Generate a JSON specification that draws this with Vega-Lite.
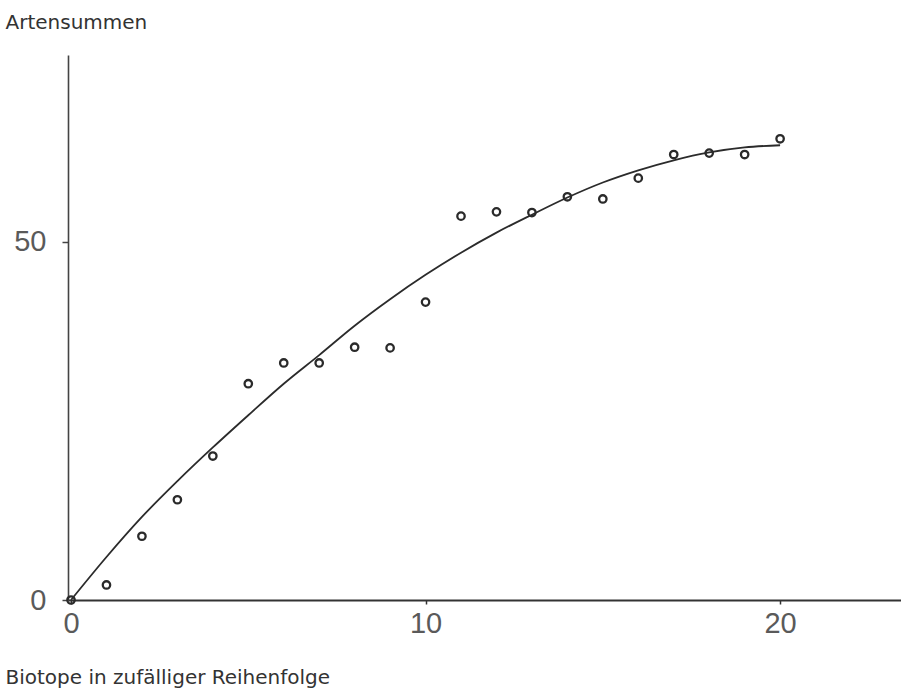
{
  "$schema": "https://vega.github.io/schema/vega-lite/v6.json",
  "width": 833,
  "height": 545,
  "autosize": "none",
  "padding": {"left": 68, "top": 55, "right": 0, "bottom": 88},
  "background": "white",
  "config": {"view": {"stroke": null}},
  "datasets": {
    "punkte": [
      {"biotop": 0, "arten": 0},
      {"biotop": 1, "arten": 2.1},
      {"biotop": 2, "arten": 8.9},
      {"biotop": 3, "arten": 14.0},
      {"biotop": 4, "arten": 20.1},
      {"biotop": 5, "arten": 30.2},
      {"biotop": 6, "arten": 33.1},
      {"biotop": 7, "arten": 33.1},
      {"biotop": 8, "arten": 35.3},
      {"biotop": 9, "arten": 35.2},
      {"biotop": 10, "arten": 41.6},
      {"biotop": 11, "arten": 53.6},
      {"biotop": 12, "arten": 54.2},
      {"biotop": 13, "arten": 54.1},
      {"biotop": 14, "arten": 56.3},
      {"biotop": 15, "arten": 56.0},
      {"biotop": 16, "arten": 58.9},
      {"biotop": 17, "arten": 62.2},
      {"biotop": 18, "arten": 62.4},
      {"biotop": 19, "arten": 62.2},
      {"biotop": 20, "arten": 64.4}
    ],
    "kurve": [
      {"biotop": 0, "arten": 0},
      {"biotop": 1, "arten": 6.0},
      {"biotop": 2, "arten": 11.6},
      {"biotop": 3, "arten": 16.6},
      {"biotop": 4, "arten": 21.3},
      {"biotop": 5, "arten": 25.8},
      {"biotop": 6, "arten": 30.2},
      {"biotop": 7, "arten": 34.2},
      {"biotop": 8, "arten": 38.3},
      {"biotop": 9, "arten": 42.0},
      {"biotop": 10, "arten": 45.4},
      {"biotop": 11, "arten": 48.5},
      {"biotop": 12, "arten": 51.3},
      {"biotop": 13, "arten": 53.8},
      {"biotop": 14, "arten": 56.2},
      {"biotop": 15, "arten": 58.3},
      {"biotop": 16, "arten": 60.0},
      {"biotop": 17, "arten": 61.4},
      {"biotop": 18, "arten": 62.5},
      {"biotop": 19, "arten": 63.2},
      {"biotop": 20, "arten": 63.5}
    ]
  },
  "layer": [
    {
      "data": {"name": "kurve"},
      "mark": {"type": "line", "interpolate": "monotone", "color": "#2b2b2b", "strokeWidth": 1.8},
      "encoding": {
        "x": {
          "field": "biotop", "type": "quantitative",
          "scale": {"domain": [-0.085, 23.41], "nice": false, "zero": false},
          "axis": {
            "values": [0, 10, 20],
            "grid": false,
            "domainColor": "#333333", "domainWidth": 2,
            "tickColor": "#333333", "tickSize": 4, "tickWidth": 1.5,
            "labelFont": "Liberation Sans", "labelFontSize": 29, "labelColor": "#5a5a5a",
            "labelPadding": 5, "labelFlush": false,
            "title": "Biotope in zufälliger Reihenfolge",
            "titleFont": "DejaVu Sans", "titleFontSize": 20, "titleFontWeight": "normal", "titleColor": "#333333",
            "titleAnchor": "start", "titleAlign": "left", "titleBaseline": "alphabetic",
            "titleX": -63, "titleY": 83
          }
        },
        "y": {
          "field": "arten", "type": "quantitative",
          "scale": {"domain": [0, 76.1], "nice": false},
          "axis": {
            "values": [0, 50],
            "grid": false,
            "domainColor": "#444444", "domainWidth": 1.6,
            "tickColor": "#444444", "tickSize": 6, "tickWidth": 1.5,
            "labelFont": "Liberation Sans", "labelFontSize": 29, "labelColor": "#5a5a5a",
            "labelPadding": 16, "labelFlush": false,
            "title": "Artensummen",
            "titleFont": "DejaVu Sans", "titleFontSize": 20, "titleFontWeight": "normal", "titleColor": "#333333",
            "titleAngle": 0, "titleAlign": "left", "titleBaseline": "alphabetic",
            "titleX": -63, "titleY": -27
          }
        }
      }
    },
    {
      "data": {"name": "punkte"},
      "mark": {"type": "point", "shape": "circle", "filled": false, "size": 55, "stroke": "#2a2a2a", "strokeWidth": 2.3, "opacity": 1},
      "encoding": {
        "x": {"field": "biotop", "type": "quantitative"},
        "y": {"field": "arten", "type": "quantitative"}
      }
    }
  ]
}
